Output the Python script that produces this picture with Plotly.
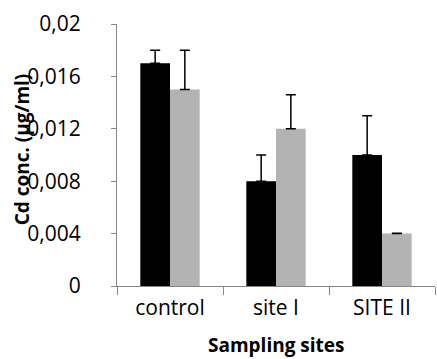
import plotly.graph_objects as go

categories = ["control", "site I", "SITE II"]
series1_values = [0.017, 0.008, 0.010]
series1_err = [0.001, 0.002, 0.003]
series2_values = [0.015, 0.012, 0.004]
series2_err = [0.003, 0.0026, 0.00002]
y_tick_vals = [0, 0.004, 0.008, 0.012, 0.016, 0.02]
y_tick_text = ["0", "0,004", "0,008", "0,012", "0,016", "0,02"]

FONT = "Open Sans"

fig = go.Figure()
fig.add_trace(go.Bar(
    x=categories, y=series1_values, name="s1",
    marker=dict(color="#000000", line=dict(width=0)),
    error_y=dict(type="data", array=series1_err, symmetric=False, arrayminus=[0, 0, 0],
                 color="#000000", thickness=1.5, width=5),
))
fig.add_trace(go.Bar(
    x=categories, y=series2_values, name="s2",
    marker=dict(color="#B3B3B3", line=dict(width=0)),
    error_y=dict(type="data", array=series2_err, symmetric=False, arrayminus=[0, 0, 0],
                 color="#000000", thickness=1.5, width=5),
))

fig.update_layout(
    width=437, height=359,
    margin=dict(l=117, r=2, t=24, b=73),
    paper_bgcolor="white", plot_bgcolor="white",
    showlegend=False,
    barmode="group", bargap=0.44, bargroupgap=0,
    font=dict(family=FONT, color="#000000"),
    xaxis=dict(
        showline=True, linecolor="#868686", linewidth=1,
        ticks="outside", tickson="boundaries", ticklen=8, tickcolor="#868686",
        tickfont=dict(size=21, family=FONT), ticklabelstandoff=3,
        showgrid=False, zeroline=False,
    ),
    yaxis=dict(
        range=[0, 0.02], showline=True, linecolor="#868686", linewidth=1,
        ticks="outside", ticklen=5, tickcolor="#868686",
        tickvals=y_tick_vals, ticktext=y_tick_text,
        tickfont=dict(size=21, family=FONT), ticklabelstandoff=26,
        showgrid=False, zeroline=False,
    ),
    annotations=[
        dict(text="<b>Cd conc. (µg/ml)</b>", xref="paper", yref="paper",
             x=-0.30, y=0.52, textangle=-90, showarrow=False,
             font=dict(size=19, family=FONT, color="#000000"),
             xanchor="center", yanchor="middle"),
        dict(text="<b>Sampling sites</b>", xref="paper", yref="paper",
             x=0.5, y=-0.168, showarrow=False,
             font=dict(size=19, family=FONT, color="#000000"),
             xanchor="center", yanchor="top"),
    ],
)

fig.write_html("out.html", config={"displayModeBar": False},
               post_script="document.body.style.margin='0';")
